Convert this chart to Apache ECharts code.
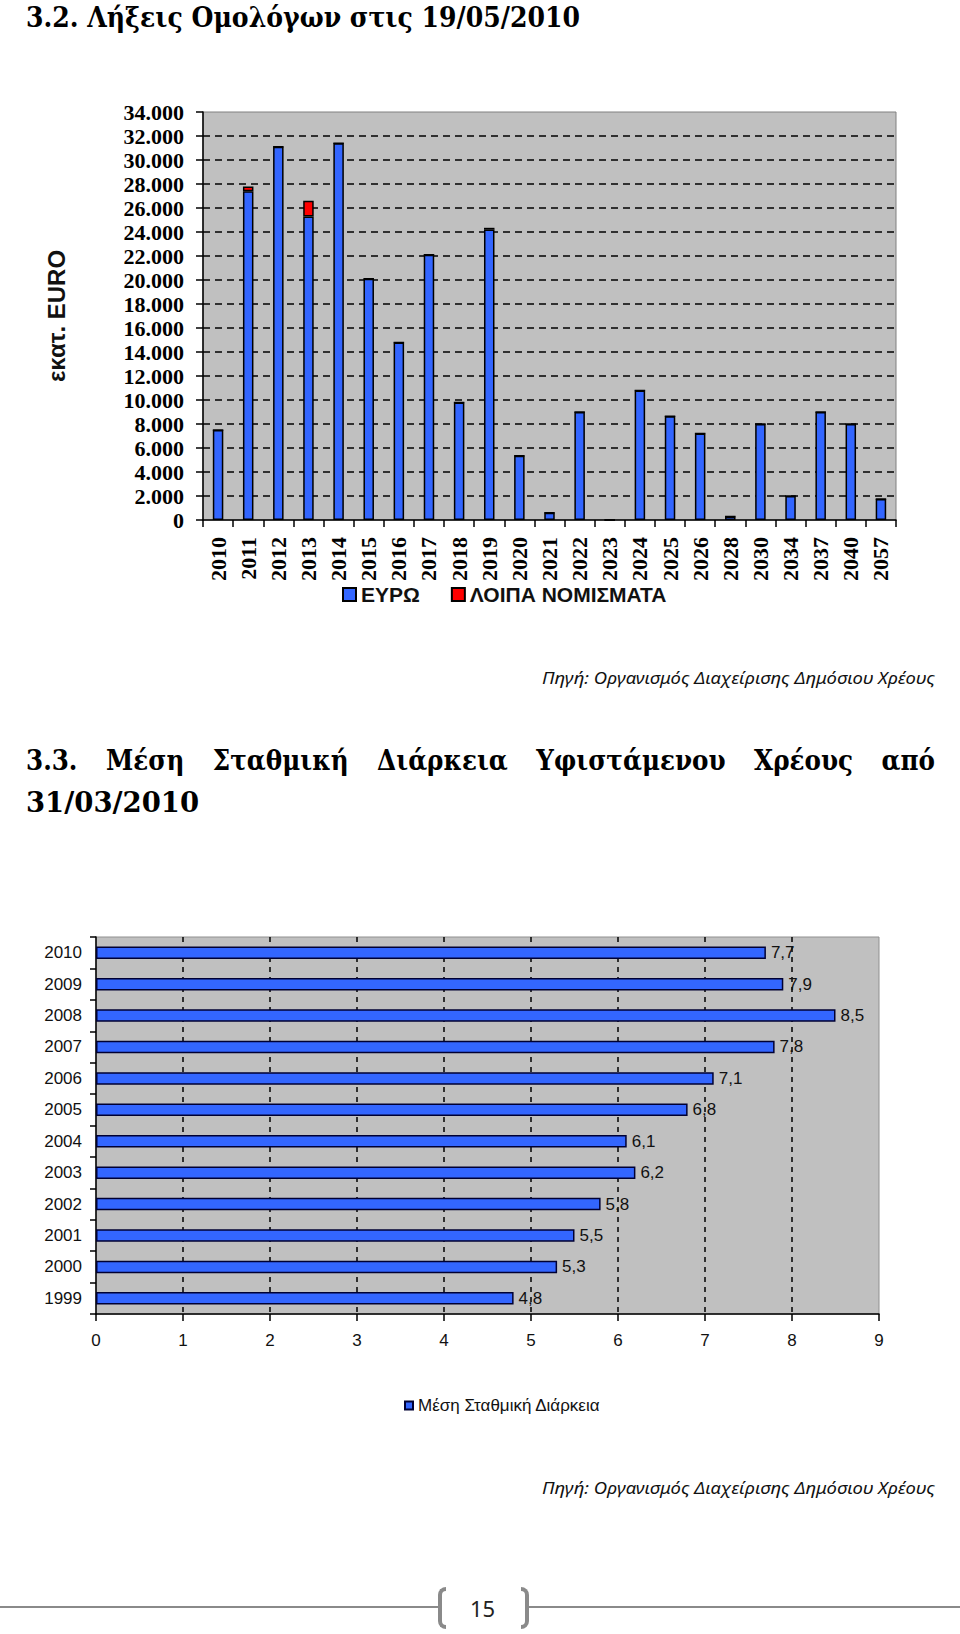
<!DOCTYPE html>
<html><head><meta charset="utf-8">
<script src="https://cdn.jsdelivr.net/npm/echarts@6/dist/echarts.min.js"></script>
<style>
html,body{margin:0;padding:0;background:#fff;width:960px;height:1634px;overflow:hidden;}
#chart{position:absolute;left:0;top:0;width:960px;height:1634px;}
.t{position:absolute;white-space:nowrap;color:#000;transform-origin:0 50%;}
.h{font-family:"DejaVu Serif";font-weight:bold;font-size:28px;line-height:34px;}
.src{font-family:"Noto Sans";font-style:italic;font-size:17px;line-height:24px;color:#111;}
.line{position:absolute;height:2px;background:#8a8a8a;top:1606px;}
.br{position:absolute;top:1587px;width:8px;height:42px;border:4px solid #8a8a8a;box-sizing:border-box;}
</style></head><body>
<div id="chart"></div>
<div class="t h fit" data-w="554" style="left:26px;top:1px;">3.2. Λήξεις Ομολόγων στις 19/05/2010</div>
<div class="t src fit" data-w="393" data-right="935" style="top:666px;">Πηγή: Οργανισμός Διαχείρισης Δημόσιου Χρέους</div>
<div class="t h" style="left:26px;top:744px;width:1033px;white-space:normal;text-align:justify;text-align-last:justify;transform:scaleX(0.88);">3.3. Μέση Σταθμική Διάρκεια Υφιστάμενου Χρέους από</div>
<div class="t h fit" data-w="173" style="left:26px;top:786px;">31/03/2010</div>
<div class="t src fit" data-w="393" data-right="935" style="top:1476px;">Πηγή: Οργανισμός Διαχείρισης Δημόσιου Χρέους</div>
<div class="line" style="left:0;width:438px;"></div>
<div class="line" style="left:529px;width:431px;"></div>
<div class="br" style="left:438px;border-right:none;border-radius:9px 0 0 9px;"></div>
<div class="br" style="left:521px;border-left:none;border-radius:0 9px 9px 0;"></div>
<div class="t" style="left:470px;top:1594px;font-family:'Noto Sans';font-size:22px;line-height:28px;color:#222;">15</div>
<script>
// ---- Data: chart 3.2 (maturities, million EUR) ----
const maturityYears = ['2010','2011','2012','2013','2014','2015','2016','2017','2018','2019','2020','2021','2022','2023','2024','2025','2026','2028','2030','2034','2037','2040','2057'];
const euroValues  = [7500,27400,31100,25300,31400,20100,14800,22100,9800,24200,5350,600,9000,0,10800,8650,7200,300,8000,2000,9000,8000,1750];
const otherValues = [0,400,0,1300,0,0,0,0,0,150,0,0,0,0,0,0,0,0,0,0,0,0,0];
const seriesNames1 = ['ΕΥΡΩ','ΛΟΙΠΑ ΝΟΜΙΣΜΑΤΑ'];
const yAxisName1 = 'εκατ. EURO';
// ---- Data: chart 3.3 (weighted average duration) ----
const durationYears = ['1999','2000','2001','2002','2003','2004','2005','2006','2007','2008','2009','2010'];
const durationValues = [4.8,5.3,5.5,5.8,6.2,6.1,6.8,7.1,7.8,8.5,7.9,7.7];
const seriesName2 = 'Μέση Σταθμική Διάρκεια';

function fmtThousands(v){
  if (v < 1000) return String(v);
  return Math.floor(v/1000) + '.' + String(v % 1000).padStart(3,'0');
}
const BLUE = '#3366ff';
const chart = echarts.init(document.getElementById('chart'), null, {renderer:'svg'});
chart.setOption({
  animation:false,
  backgroundColor:'transparent',
  grid:[
    {left:203, top:112, width:693, height:408, show:true, backgroundColor:'#c0c0c0', borderColor:'#808080', borderWidth:1},
    {left:96, top:937, width:783, height:377, show:true, backgroundColor:'#c0c0c0', borderColor:'#909090', borderWidth:1}
  ],
  legend:[
    {data:seriesNames1, left:337, top:579, itemWidth:13, itemHeight:13, itemGap:31, icon:'rect', selectedMode:false,
     textStyle:{fontFamily:'Liberation Sans', fontWeight:'bold', fontSize:21, color:'#111'}},
    {data:[seriesName2], left:399, top:1392, itemWidth:8, itemHeight:8, icon:'rect', selectedMode:false, itemGap:4,
     textStyle:{fontFamily:'Liberation Sans', fontSize:17, color:'#111'}}
  ],
  xAxis:[
    {type:'category', gridIndex:0, data:maturityYears,
     axisLine:{lineStyle:{color:'#000', width:1.5}},
     axisTick:{show:true, interval:0, length:7, lineStyle:{color:'#000', width:1.5}},
     axisLabel:{interval:0, rotate:90, margin:17, fontFamily:'Liberation Serif', fontWeight:'bold', fontSize:22, color:'#000'}},
    {type:'value', gridIndex:1, min:0, max:9, interval:1,
     axisLine:{show:true, lineStyle:{color:'#000', width:1.5}},
     axisTick:{show:true, length:7, lineStyle:{color:'#000', width:1.5}},
     axisLabel:{margin:18, fontFamily:'Liberation Sans', fontSize:17, color:'#111'},
     splitLine:{show:true, showMinLine:false, showMaxLine:false, lineStyle:{color:'#000', width:1.5, type:[5,5]}}}
  ],
  yAxis:[
    {type:'value', gridIndex:0, min:0, max:34000, interval:2000,
     name:yAxisName1, nameLocation:'middle', nameGap:135,
     nameTextStyle:{fontFamily:'Liberation Sans', fontWeight:'bold', fontSize:24, color:'#111'},
     axisLine:{show:true, lineStyle:{color:'#000', width:1.5}},
     axisTick:{show:true, length:7, lineStyle:{color:'#000', width:1.5}},
     axisLabel:{margin:19, formatter:fmtThousands, fontFamily:'Liberation Serif', fontWeight:'bold', fontSize:22, color:'#000'},
     splitLine:{show:true, showMinLine:false, showMaxLine:false, lineStyle:{color:'#000', width:1.5, type:[7,5]}}},
    {type:'category', gridIndex:1, data:durationYears,
     axisLine:{lineStyle:{color:'#000', width:1.5}},
     axisTick:{show:true, interval:0, length:6, lineStyle:{color:'#000', width:1.5}},
     axisLabel:{interval:0, margin:14, fontFamily:'Liberation Sans', fontSize:17, color:'#111'}}
  ],
  series:[
    {name:seriesNames1[0], type:'bar', xAxisIndex:0, yAxisIndex:0, stack:'m', data:euroValues, barWidth:10.5,
     itemStyle:{color:BLUE, borderColor:'#000', borderWidth:1.5}},
    {name:seriesNames1[1], type:'bar', xAxisIndex:0, yAxisIndex:0, stack:'m', data:otherValues, barWidth:10.5,
     itemStyle:{color:'#ff0000', borderColor:'#000', borderWidth:1.5}},
    {name:seriesName2, type:'bar', xAxisIndex:1, yAxisIndex:1, data:durationValues, barWidth:12.5,
     itemStyle:{color:BLUE, borderColor:'#000033', borderWidth:1.5},
     label:{show:true, position:'right', distance:5, fontFamily:'Liberation Sans', fontSize:17, color:'#111',
            formatter:p => String(p.value).replace('.', ',')}}
  ]
});
function fitAll(){
  document.querySelectorAll('.fit').forEach(el=>{
    el.style.transform='none';
    const w = el.getBoundingClientRect().width;
    const target = +el.dataset.w;
    if (el.dataset.right) el.style.left = (+el.dataset.right - target) + 'px';
    el.style.transform = 'scaleX(' + (target / w) + ')';
  });
}
fitAll();
if (document.fonts && document.fonts.ready) document.fonts.ready.then(fitAll);
</script>
</body></html>
